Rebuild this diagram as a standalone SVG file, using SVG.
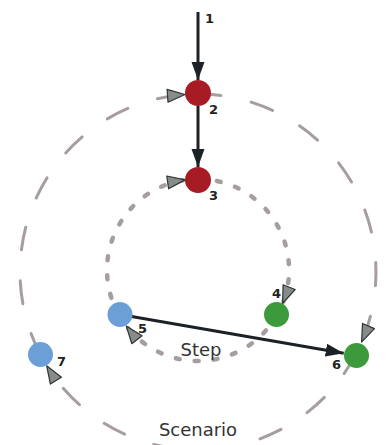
<svg xmlns="http://www.w3.org/2000/svg" width="387" height="445" viewBox="0 0 387 445">
  <style>
    .outer { fill: none; stroke: #a69e9e; stroke-width: 3; stroke-linecap: round; stroke-dasharray: 23 31; }
    .inner { fill: none; stroke: #a69e9e; stroke-width: 4.5; stroke-linecap: round; stroke-dasharray: 4 15; }
    .flow { fill: none; stroke: #1c2126; stroke-width: 3; }
    .red { fill: #a61b24; }
    .blue { fill: #6b9fd6; }
    .green { fill: #3c9a3c; }
    .num { font-family: "DejaVu Sans", sans-serif; font-weight: bold; font-size: 13px; fill: #222; }
    .cap { font-family: "DejaVu Sans", sans-serif; font-size: 18px; fill: #333; text-anchor: middle; }
  </style>
  <defs>
    <marker id="loop-head" markerUnits="userSpaceOnUse" markerWidth="22" markerHeight="18" refX="18.5" refY="8" orient="auto">
      <path d="M1,1.5 L18.5,8 L1,14.5 Z" fill="#878b89" stroke="#2f3332" stroke-width="1.2" stroke-linejoin="round"/>
    </marker>
    <marker id="flow-head" markerUnits="userSpaceOnUse" markerWidth="20" markerHeight="16" refX="18" refY="7" orient="auto">
      <path d="M0,0.5 L18,7 L0,13.5 Z" fill="#1c2126"/>
    </marker>
  </defs>

  <!-- scenario loop: 7 -> 2 -> 6 -> 7 -->
  <g id="scenario-loop">
    <path class="outer" d="M40.3,354.5 A178,178 0 0 1 185,94.5" marker-end="url(#loop-head)"/>
    <path class="outer" d="M198,94 A178,178 0 0 1 361.6,342.1" marker-end="url(#loop-head)"/>
    <path class="outer" d="M356,353.9 A178,178 0 0 1 46.7,365.8" marker-end="url(#loop-head)"/>
  </g>

  <!-- step loop: 5 -> 3 -> 4 -> 5 -->
  <g id="step-loop">
    <path class="inner" d="M119,315.1 A91,91 0 0 1 185,179.9" marker-end="url(#loop-head)"/>
    <path class="inner" d="M198,179 A91,91 0 0 1 282.7,303.4" marker-end="url(#loop-head)"/>
    <path class="inner" d="M277,315.1 A91,91 0 0 1 126.2,325.9" marker-end="url(#loop-head)"/>
  </g>

  <!-- connectors -->
  <g id="connectors">
    <line class="flow" x1="198" y1="12" x2="198" y2="80" marker-end="url(#flow-head)"/>
    <line class="flow" x1="198" y1="106" x2="198" y2="167" marker-end="url(#flow-head)"/>
    <line class="flow" x1="120" y1="314.5" x2="343.7" y2="353.3" marker-end="url(#flow-head)"/>
  </g>

  <g id="node-1"><text class="num" x="205" y="23">1</text></g>
  <g id="node-2"><circle class="red" cx="198" cy="93" r="13"/><text class="num" x="209" y="114">2</text></g>
  <g id="node-3"><circle class="red" cx="198" cy="180" r="13"/><text class="num" x="209" y="200">3</text></g>
  <g id="node-4"><circle class="green" cx="276.5" cy="314.5" r="12.5"/><text class="num" x="272" y="298">4</text></g>
  <g id="node-5"><circle class="blue" cx="120" cy="314.5" r="12.5"/><text class="num" x="138" y="333">5</text></g>
  <g id="node-6"><circle class="green" cx="356.5" cy="355.5" r="12.5"/><text class="num" x="332" y="369">6</text></g>
  <g id="node-7"><circle class="blue" cx="40.5" cy="354.5" r="12.5"/><text class="num" x="57" y="366">7</text></g>

  <text class="cap" x="201" y="356">Step</text>
  <text class="cap" x="198" y="436">Scenario</text>
</svg>
